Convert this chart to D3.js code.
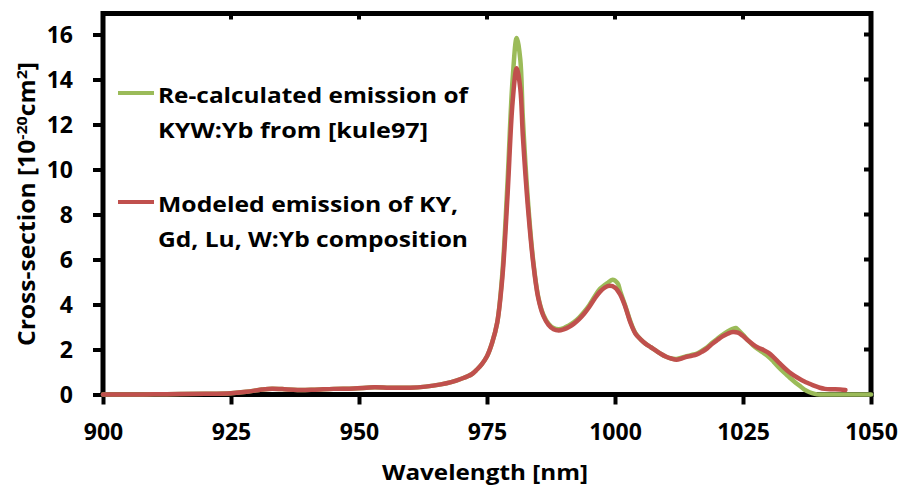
<!DOCTYPE html>
<html>
<head>
<meta charset="utf-8">
<script src="https://cdn.jsdelivr.net/npm/d3@7"></script>
<style>
  html, body { margin: 0; padding: 0; background: #fff; }
  svg text { font-family: "Open Sans", Lato, sans-serif; font-weight: 700; fill: #000; }
</style>
</head>
<body>
<svg id="chart" width="905" height="490"></svg>
<script>
// Emission cross-section spectra of Yb-doped double tungstates
const xTicks = [900, 925, 950, 975, 1000, 1025, 1050];
const yTicks = [0, 2, 4, 6, 8, 10, 12, 14, 16];

// Re-calculated emission of KYW:Yb
const wlGreen = [900, 905, 910, 915, 920, 925, 928, 931, 933, 935, 938, 941, 945, 949, 953, 956, 960, 963, 966, 968, 970, 972, 973, 974, 975, 976, 977, 978, 979, 980, 980.8, 981.5, 982, 983, 984, 985, 986, 987, 988, 989, 990, 991, 992, 993, 994, 995, 996, 997, 997.5, 998.5, 999.5, 1000.5, 1001, 1002, 1003, 1004, 1005, 1006, 1007, 1008, 1009, 1010, 1011, 1012, 1013, 1014, 1015, 1016, 1017, 1018, 1019, 1020, 1021, 1022, 1023, 1023.6, 1024, 1025, 1026, 1027, 1028, 1029, 1030, 1031, 1032, 1033, 1034, 1035, 1036, 1037, 1038, 1039, 1040, 1042, 1045, 1050];
const green = [0.0, 0.0, 0.01, 0.02, 0.03, 0.06, 0.12, 0.22, 0.26, 0.24, 0.2, 0.21, 0.25, 0.27, 0.32, 0.3, 0.3, 0.35, 0.45, 0.55, 0.7, 0.9, 1.1, 1.35, 1.7, 2.3, 3.2, 5.4, 9.4, 14.0, 15.85, 14.9, 12.3, 8.6, 6.0, 4.35, 3.55, 3.15, 2.95, 2.9, 2.95, 3.07, 3.22, 3.42, 3.68, 3.98, 4.35, 4.68, 4.78, 4.95, 5.1, 4.95, 4.6, 3.95, 3.25, 2.72, 2.45, 2.25, 2.1, 1.95, 1.8, 1.68, 1.6, 1.58, 1.64, 1.7, 1.76, 1.82, 1.95, 2.1, 2.3, 2.48, 2.65, 2.8, 2.92, 2.96, 2.88, 2.65, 2.4, 2.18, 2.0, 1.85, 1.68, 1.45, 1.2, 0.98, 0.78, 0.58, 0.4, 0.22, 0.1, 0.03, 0.0, 0.0, 0.0, 0.0];

// Modeled emission of KY, Gd, Lu, W:Yb composition
const wlRed = [900, 905, 910, 915, 920, 925, 928, 931, 933, 935, 938, 941, 945, 949, 953, 956, 960, 963, 966, 968, 970, 972, 973, 974, 975, 976, 977, 978, 979, 980, 980.8, 981.5, 982, 983, 984, 985, 986, 987, 988, 989, 990, 991, 992, 993, 994, 995, 996, 997, 998, 999, 1000, 1001, 1002, 1003, 1004, 1005, 1006, 1007, 1008, 1009, 1010, 1011, 1012, 1013, 1014, 1015, 1016, 1017, 1018, 1019, 1020, 1021, 1022, 1023, 1024, 1025, 1026, 1027, 1028, 1029, 1030, 1031, 1032, 1033, 1034, 1035, 1036, 1037, 1038, 1039, 1040, 1041, 1042, 1043, 1044, 1045];
const red = [0.0, 0.0, 0.01, 0.02, 0.03, 0.06, 0.12, 0.22, 0.26, 0.24, 0.2, 0.21, 0.25, 0.27, 0.32, 0.3, 0.3, 0.35, 0.45, 0.55, 0.7, 0.9, 1.1, 1.35, 1.7, 2.3, 3.2, 5.2, 8.8, 13.0, 14.5, 13.6, 11.5, 8.3, 5.9, 4.3, 3.5, 3.1, 2.9, 2.85, 2.9, 3.0, 3.15, 3.35, 3.6, 3.9, 4.25, 4.55, 4.75, 4.83, 4.75, 4.45, 3.9, 3.2, 2.7, 2.45, 2.25, 2.1, 1.95, 1.8, 1.68, 1.6, 1.55, 1.6, 1.68, 1.72, 1.78, 1.9, 2.05, 2.25, 2.42, 2.58, 2.7, 2.78, 2.75, 2.6, 2.4, 2.22, 2.08, 1.98, 1.85, 1.65, 1.42, 1.2, 1.0, 0.84, 0.7, 0.58, 0.48, 0.38, 0.3, 0.25, 0.23, 0.23, 0.22, 0.2];

const legendGreen = ["Re-calculated emission of", "KYW:Yb from [kule97]"];
const legendRed = ["Modeled emission of KY,", "Gd, Lu, W:Yb composition"];

const svg = d3.select("#chart");
const plotL = 103, plotR = 871, plotT = 13.5, plotB = 394.5;

const x = d3.scaleLinear().domain([900, 1050]).range([plotL, plotR]);
const y = d3.scaleLinear().domain([0, 16]).range([plotB, 34.5]);

// frame: top and right borders with inner ticks
svg.append("path")
  .attr("d", `M${plotL},${plotT}H${plotR}V${plotB}`)
  .attr("fill", "none").attr("stroke", "#000").attr("stroke-width", 5);
svg.append("g").selectAll("line").data(xTicks.slice(1, -1)).join("line")
  .attr("x1", d => x(d)).attr("x2", d => x(d))
  .attr("y1", plotT).attr("y2", plotT + 6)
  .attr("stroke", "#000").attr("stroke-width", 4);
svg.append("g").selectAll("line").data(yTicks.slice(1)).join("line")
  .attr("x1", plotR).attr("x2", plotR - 7)
  .attr("y1", d => y(d)).attr("y2", d => y(d))
  .attr("stroke", "#000").attr("stroke-width", 4);

// bottom axis
const xAxis = svg.append("g").attr("transform", `translate(0,${plotB})`)
  .call(d3.axisBottom(x).tickValues(xTicks).tickFormat(d3.format("d"))
    .tickSizeInner(10).tickSizeOuter(0).tickPadding(19));
// left axis
const yAxis = svg.append("g").attr("transform", `translate(${plotL},0)`)
  .call(d3.axisLeft(y).tickValues(yTicks).tickFormat(d3.format("d"))
    .tickSizeInner(10).tickSizeOuter(0).tickPadding(20));
[xAxis, yAxis].forEach(g => {
  g.select(".domain").attr("stroke", "#000").attr("stroke-width", 5)
    .attr("d", g === xAxis ? `M${plotL - 2.5},0H${plotR + 2.5}` : `M0,${plotT - 2.5}V${plotB + 2.5}`);
  g.selectAll(".tick line").attr("stroke", "#000").attr("stroke-width", 4);
  g.selectAll(".tick text").style("font-size", "23px")
    .style("font-family", "'Open Sans', sans-serif").style("font-weight", 700).attr("fill", "#000");
});
xAxis.selectAll(".tick text").attr("dy", "0.71em");
yAxis.selectAll(".tick text").attr("dy", "0.36em");

// series drawn over the axes
const line = d3.line().curve(d3.curveCatmullRom.alpha(0.5));
const gLines = svg.append("g");
gLines.append("path")
  .attr("d", line(wlGreen.map((w, i) => [x(w), y(green[i])])))
  .attr("fill", "none").attr("stroke", "#9BBB59").attr("stroke-width", 4.5)
  .attr("stroke-linejoin", "round").attr("stroke-linecap", "round");
gLines.append("path")
  .attr("d", line(wlRed.map((w, i) => [x(w), y(red[i])])))
  .attr("fill", "none").attr("stroke", "#C0504D").attr("stroke-width", 4.5)
  .attr("stroke-linejoin", "round").attr("stroke-linecap", "round");

// axis titles
svg.append("text").attr("x", 485).attr("y", 480)
  .attr("text-anchor", "middle").style("font-size", "22px")
  .attr("textLength", 206).attr("lengthAdjust", "spacingAndGlyphs")
  .text("Wavelength [nm]");

const yt = svg.append("text")
  .attr("transform", `translate(35,${(plotT + plotB) / 2}) rotate(-90)`)
  .attr("text-anchor", "middle").style("font-size", "23px")
  .attr("textLength", 284).attr("lengthAdjust", "spacingAndGlyphs");
yt.append("tspan").text("Cross-section [10");
yt.append("tspan").attr("dy", -8).style("font-size", "15px").text("-20");
yt.append("tspan").attr("dy", 8).text("cm");
yt.append("tspan").attr("dy", -8).style("font-size", "15px").text("2");
yt.append("tspan").attr("dy", 8).text("]");

// legend
const legend = svg.append("g");
[[legendGreen, "#9BBB59", 93, [310, 270]], [legendRed, "#C0504D", 202, [300, 310]]]
  .forEach(([lines, color, ly, widths]) => {
    legend.append("line").attr("x1", 118).attr("x2", 154).attr("y1", ly).attr("y2", ly)
      .attr("stroke", color).attr("stroke-width", 4);
    lines.forEach((t, i) => {
      legend.append("text").attr("x", 158).attr("y", ly + 10 + i * 35)
        .style("font-size", "22px")
        .attr("textLength", widths[i]).attr("lengthAdjust", "spacingAndGlyphs")
        .text(t);
    });
  });
</script>
</body>
</html>
